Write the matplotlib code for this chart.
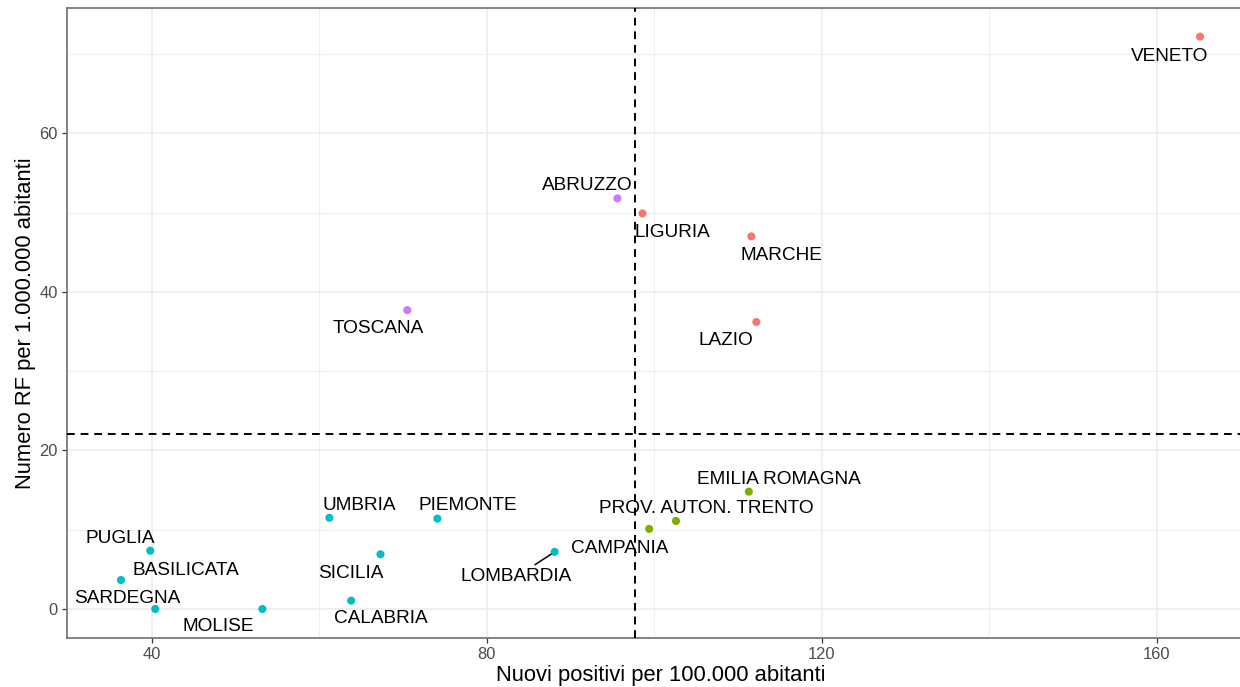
import matplotlib
matplotlib.use("Agg")
import matplotlib.pyplot as plt
from matplotlib.ticker import MultipleLocator

# ---------------- data ----------------
regions = ["VENETO", "ABRUZZO", "LIGURIA", "MARCHE", "LAZIO", "TOSCANA",
           "EMILIA ROMAGNA", "PROV. AUTON. TRENTO", "CAMPANIA", "LOMBARDIA",
           "PIEMONTE", "UMBRIA", "SICILIA", "CALABRIA", "MOLISE", "PUGLIA",
           "BASILICATA", "SARDEGNA"]
nuovi_positivi = [165.2, 95.6, 98.6, 111.6, 112.2, 70.5,
                  111.3, 102.6, 99.4, 88.1,
                  74.1, 61.2, 67.3, 63.8, 53.2, 39.8,
                  36.3, 40.4]
numero_rf = [72.2, 51.8, 49.9, 47.0, 36.2, 37.7,
             14.8, 11.1, 10.1, 7.2,
             11.4, 11.5, 6.9, 1.05, 0.0, 7.35,
             3.65, 0.0]
gruppo = ["alto-alto", "basso-alto", "alto-alto", "alto-alto", "alto-alto", "basso-alto",
          "alto-basso", "alto-basso", "alto-basso", "basso-basso",
          "basso-basso", "basso-basso", "basso-basso", "basso-basso", "basso-basso", "basso-basso",
          "basso-basso", "basso-basso"]
soglia_x = 97.7
soglia_y = 22.1

x_ticks_major = [40, 80, 120, 160]
y_ticks_major = [0, 20, 40, 60]

# ---------------- styles ----------------
palette = {"alto-alto": "#F8766D", "alto-basso": "#7CAE00",
           "basso-basso": "#00BFC4", "basso-alto": "#C77CFF"}
# label offsets (pixels, centre of caps relative to point)
label_offsets = {
    "VENETO": (-30, -17.5), "ABRUZZO": (-30, 15), "LIGURIA": (30, -17),
    "MARCHE": (30, -17), "LAZIO": (-30, -16.5), "TOSCANA": (-29.5, -16),
    "EMILIA ROMAGNA": (30, 14.7), "PROV. AUTON. TRENTO": (30, 15),
    "CAMPANIA": (-30, -17), "LOMBARDIA": (-38, -22.5), "PIEMONTE": (30, 15),
    "UMBRIA": (29.5, 14.7), "SICILIA": (-30, -16.8), "CALABRIA": (30, -16),
    "MOLISE": (-44, -15), "PUGLIA": (-30.5, 14.4), "BASILICATA": (64.5, 12),
    "SARDEGNA": (-27.7, 12.7),
}
with_segment = {"LOMBARDIA"}

plt.rcParams["font.family"] = ["Liberation Sans", "DejaVu Sans"]

W, H = 1240, 687
fig = plt.figure(figsize=(W / 100, H / 100), dpi=100)
left, right, top, bottom = 67, 1254, 8, 637.6
ax = fig.add_axes([left / W, (H - bottom) / H, (right - left) / W, (bottom - top) / H])

# expansion like ggplot (5%)
xmin, xmax = min(nuovi_positivi), max(nuovi_positivi)
ymin, ymax = min(numero_rf), max(numero_rf)
dx, dy = (xmax - xmin) * 0.05, (ymax - ymin) * 0.05
ax.set_xlim(xmin - dx, xmax + dx)
ax.set_ylim(ymin - dy, ymax + dy)

ax.set_xticks(x_ticks_major)
ax.set_yticks(y_ticks_major)
ax.xaxis.set_minor_locator(MultipleLocator(20))
ax.yaxis.set_minor_locator(MultipleLocator(10))
ax.grid(which="major", color="#EBEBEB", linewidth=1.1, zorder=0)
ax.grid(which="minor", color="#EFEFEF", linewidth=0.8, zorder=0)
ax.set_axisbelow(True)
ax.tick_params(which="minor", length=0)
ax.tick_params(which="major", length=3.6, width=0.9, color="#333333",
               labelsize=11.9, labelcolor="#4D4D4D", pad=3)

for side in ["left", "top", "bottom", "right"]:
    ax.spines[side].set_color("#6e6e6e")
    ax.spines[side].set_linewidth(1.2)

ax.axvline(soglia_x, color="black", linewidth=1.4, linestyle=(0, (4, 3)), zorder=3)
ax.axhline(soglia_y, color="black", linewidth=1.4, linestyle=(0, (4, 3)), zorder=3)

cols = [palette[g] for g in gruppo]
ax.scatter(nuovi_positivi, numero_rf, s=34, c=cols, linewidths=0, zorder=4)

cap_half = 0.716 * 19 / 2
for name, xv, yv in zip(regions, nuovi_positivi, numero_rf):
    ox, oy = label_offsets[name]
    kw = {}
    if name in with_segment:
        kw["arrowprops"] = dict(arrowstyle="-", color="black", lw=1.1,
                                shrinkA=1, shrinkB=3)
    ax.annotate(name, xy=(xv, yv), xytext=(ox, oy - cap_half),
                textcoords="offset pixels", ha="center", va="baseline",
                fontsize=13.7, color="black", zorder=5, annotation_clip=False, **kw)

ax.set_xlabel("Nuovi positivi per 100.000 abitanti", fontsize=15.8, color="black")
ax.set_ylabel("Numero RF per 1.000.000 abitanti", fontsize=15.8, color="black")
xl = ax.xaxis.label
xl.set_va("baseline")
ax.xaxis.set_label_coords(0.5, (681 - bottom) / (top - bottom))
yl = ax.yaxis.label
yl.set_rotation_mode("anchor")
yl.set_va("baseline")
yl.set_ha("center")
ax.yaxis.set_label_coords((31 - left) / (right - left), 0.5)

fig.savefig("out.png", dpi=100)
